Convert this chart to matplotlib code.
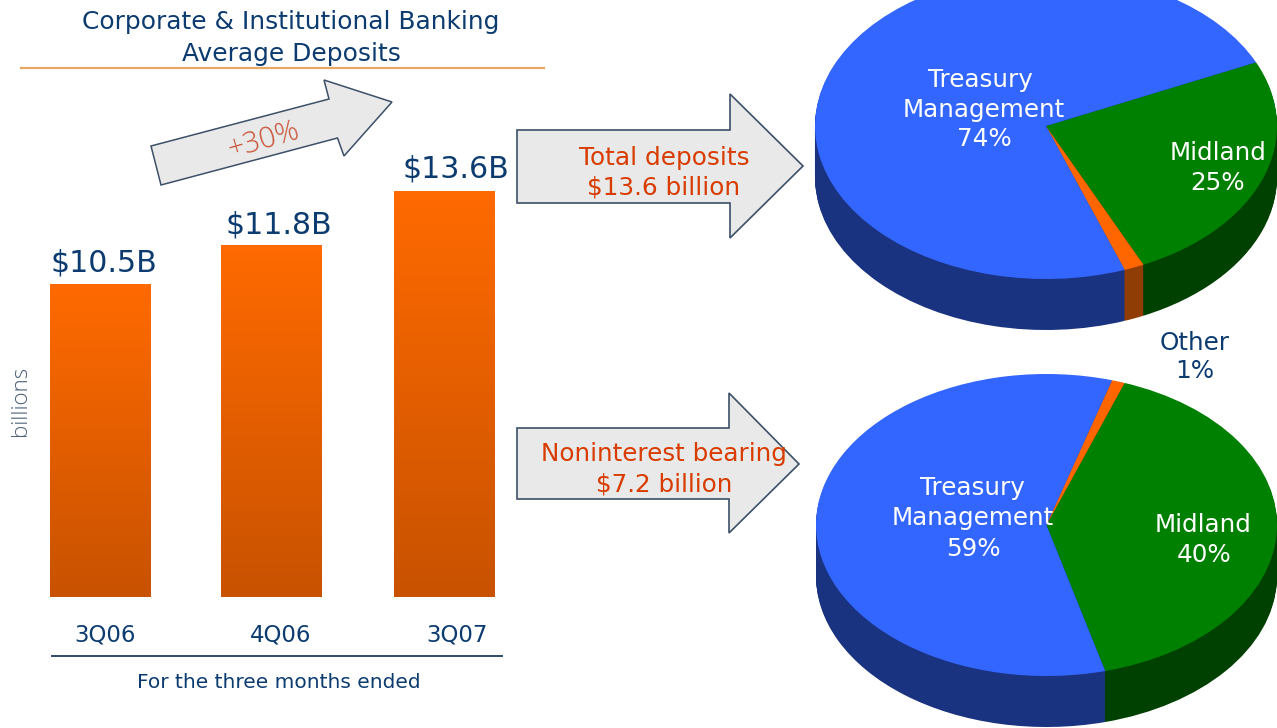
import matplotlib
matplotlib.use('Agg')
import matplotlib.pyplot as plt
import numpy as np
from matplotlib.patches import Polygon
from matplotlib.colors import LinearSegmentedColormap

W, H = 1277, 728

# data
quarters = ['3Q06', '4Q06', '3Q07']
deposits = [10.5, 11.8, 13.6]
deposit_labels = ['$10.5B', '$11.8B', '$13.6B']

total_names = ['Midland', 'Other', 'Treasury Management']
total_share = [24.9, 1.4, 73.7]
nonint_names = ['Midland', 'Treasury Management', 'Other']
nonint_share = [40.4, 58.7, 0.9]

navy = '#0c3b70'
red = '#d83c00'
top_colors = {'Midland': '#008000', 'Other': '#ff6600', 'Treasury Management': '#3366ff'}
side_colors = {'Midland': '#004000', 'Other': '#8f3d05', 'Treasury Management': '#1a3380'}


def axes_px(left, top, right, bottom, **kw):
    return fig.add_axes([left / W, 1 - bottom / H, (right - left) / W, (bottom - top) / H], **kw)


fig = plt.figure(figsize=(W / 100, H / 100), dpi=100, facecolor='white')

# bars
ax = axes_px(14.5, 179, 530.5, 597.5)
ax.set_xlim(-0.5, 2.5)
ax.set_ylim(0, 14)
ax.axis('off')
bars = ax.bar([0, 0.994, 2], deposits, width=0.587, color='none')
cmap = LinearSegmentedColormap.from_list('bar', ['#ff6a00', '#c85200'])
grad = np.linspace(0, 1, 256).reshape(-1, 1)
for b in bars:
    im = ax.imshow(grad, cmap=cmap, aspect='auto', zorder=2, interpolation='bilinear',
                   extent=[b.get_x(), b.get_x() + b.get_width(), 0, b.get_height()])
    im.set_clip_path(b)
ax.set_xlim(-0.5, 2.5)
ax.set_ylim(0, 14)


# pies, side wall is the same pie stacked downwards
def draw_pie(left, right, cy, ry, depth, values, names, start):
    a = axes_px(left, cy - ry, right, cy + ry + depth)
    for d in range(depth, -1, -1):
        src = top_colors if d == 0 else side_colors
        wedges, _ = a.pie(values, colors=[src[n] for n in names], startangle=start,
                          counterclock=False, center=(0, -d / ry), radius=1)
        for w in wedges:
            w.set_zorder(depth - d + 1)
    a.set_aspect('auto')
    a.set_xlim(-1, 1)
    a.set_ylim(-1 - depth / ry, 1)
    a.axis('off')
    return a


draw_pie(815, 1277, 126, 153, 51, total_share, total_names, 24.6)
draw_pie(816, 1277, 525, 151, 51, nonint_share, nonint_names, 70.2)

# overlay for the annotation, in pixels
ov = fig.add_axes([0, 0, 1, 1], zorder=10)
ov.set_xlim(0, W)
ov.set_ylim(H, 0)
ov.axis('off')
ov.patch.set_alpha(0)


def label(x, y, s, color, size, **kw):
    ov.text(x, y + 1.5, s, color=color, fontsize=size, ha='center', va='center', **kw)


ov.plot([21, 544], [68, 68], color='#e8a862', lw=1.6)
ov.plot([52, 502], [656, 656], color='#2c4c6c', lw=1.4)

label(291, 21, 'Corporate & Institutional Banking', navy, 17.9)
label(291, 53, 'Average Deposits', navy, 17.9)

for x, y, s in zip([103.5, 279, 456], [261, 224, 167], deposit_labels):
    label(x, y, s, navy, 21.6)
for x, s in zip([105, 281, 457], quarters):
    label(x, 633, s, navy, 16.5)
label(279, 681, 'For the three months ended', navy, 14.5)
label(20, 399.5, 'billions', '#4a6078', 16, rotation=90, family='Open Sans', fontweight='light')

# arrows
arrow_small = [(151, 146), (329, 99), (324, 80), (392, 102), (344, 156), (337.5, 138), (161, 185)]
arrow_top = [(517, 130), (730, 130), (730, 94), (803, 166), (730, 238), (730, 203), (517, 203)]
arrow_low = [(517, 428), (729, 428), (729, 393), (799, 464), (729, 533), (729, 499), (517, 499)]
for pts, lw in [(arrow_small, 1.1), (arrow_top, 1.2), (arrow_low, 1.2)]:
    ov.add_patch(Polygon(pts, closed=True, facecolor='#e9e9e9', edgecolor='#3c5068', lw=lw))

label(264, 139, '+30%', '#c8553a', 21, rotation=16, family='Open Sans', fontweight='light')
label(664, 156, 'Total deposits', red, 17.8)
label(664, 186, '$13.6 billion', red, 17.8)
label(664, 453, 'Noninterest bearing', red, 17.7)
label(664, 483, '$7.2 billion', red, 17.7)

# pie labels
for x, y, s, c in [(980, 78, 'Treasury', 'white'), (984, 108, 'Management', 'white'), (984, 138, '74%', 'white'),
                   (1218, 152, 'Midland', 'white'), (1218, 181, '25%', 'white'),
                   (1195, 341, 'Other', navy), (1195, 370, '1%', navy),
                   (972, 487, 'Treasury', 'white'), (973, 517, 'Management', 'white'), (973, 548, '59%', 'white'),
                   (1203, 524, 'Midland', 'white'), (1204, 553, '40%', 'white')]:
    label(x, y, s, c, 17.7)

fig.savefig('out.png', dpi=100)
